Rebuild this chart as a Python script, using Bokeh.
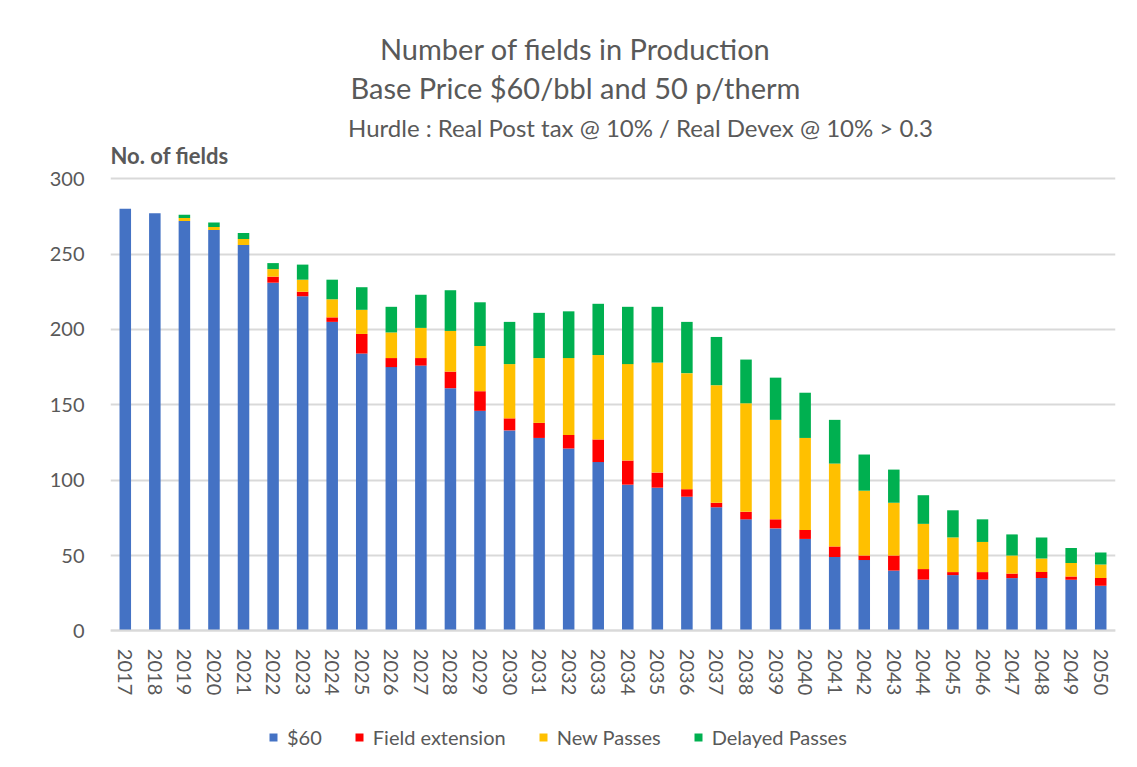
import math
from bokeh.plotting import figure
from bokeh.models import ColumnDataSource, Label, Legend, FactorRange, Range1d
from bokeh.embed import file_html
from bokeh.resources import INLINE

years = [str(y) for y in range(2017, 2051)]
base_60 = [280, 277, 272, 266, 256, 231, 222, 205, 184, 175, 176, 161, 146, 133, 128, 121, 112,
           97, 95, 89, 82, 74, 68, 61, 49, 47, 40, 34, 37, 34, 35, 35, 34, 30]
field_extension = [0, 0, 0, 0, 0, 4, 3, 3, 13, 6, 5, 11, 13, 8, 10, 9, 15,
                   16, 10, 5, 3, 5, 6, 6, 7, 3, 10, 7, 2, 5, 3, 4, 2, 5]
new_passes = [0, 0, 2, 2, 4, 5, 8, 12, 16, 17, 20, 27, 30, 36, 43, 51, 56,
              64, 73, 77, 78, 72, 66, 61, 55, 43, 35, 30, 23, 20, 12, 9, 9, 9]
delayed_passes = [0, 0, 2, 3, 4, 4, 10, 13, 15, 17, 22, 27, 29, 28, 30, 31, 34,
                  38, 37, 34, 32, 29, 28, 30, 29, 24, 22, 19, 18, 15, 14, 14, 10, 8]
series_names = ["$60", "Field extension", "New Passes", "Delayed Passes"]
colors = ["#4472C4", "#FF0000", "#FFC000", "#00B050"]
title_lines = ["Number of fields in Production",
               "Base Price $60/bbl and 50 p/therm",
               "Hurdle : Real Post tax @ 10% / Real Devex @ 10% > 0.3"]
y_title = "No. of fields"
y_ticks = [0, 50, 100, 150, 200, 250, 300]

FONT = "Lato"
GREY = "#595959"

source = ColumnDataSource(data={
    "year": years,
    "s0": base_60, "s1": field_extension, "s2": new_passes, "s3": delayed_passes,
})

p = figure(x_range=FactorRange(*years, range_padding=0), y_range=Range1d(-86, 395),
           frame_width=1005, frame_height=725, output_backend="svg", toolbar_location=None,
           min_border_left=110, min_border_right=14, min_border_top=35, min_border_bottom=0)
p.outline_line_color = None
p.background_fill_color = "white"
p.border_fill_color = "white"

renderers = p.vbar_stack(["s0", "s1", "s2", "s3"], x="year", width=0.39, source=source,
                         color=colors, line_color=None)

# axes
p.yaxis.ticker = y_ticks
p.yaxis.axis_line_color = None
p.yaxis.major_tick_line_color = None
p.yaxis.minor_tick_line_color = None
p.yaxis.major_label_text_font = FONT
p.yaxis.major_label_text_font_size = "20px"
p.yaxis.major_label_text_color = GREY
p.yaxis.major_label_standoff = 20

p.xaxis.fixed_location = 0
p.xaxis.axis_line_color = "#D9D9D9"
p.xaxis.axis_line_width = 2
p.xaxis.major_tick_line_color = None
p.xaxis.minor_tick_line_color = None
p.xaxis.major_label_orientation = -math.pi / 2
p.xaxis.major_label_text_font = FONT
p.xaxis.major_label_text_font_size = "20px"
p.xaxis.major_label_text_color = GREY
p.xaxis.major_label_standoff = 12

p.xgrid.grid_line_color = None
p.ygrid.grid_line_color = "#D9D9D9"
p.ygrid.grid_line_width = 2

# titles (one label per line)
title_x = [15.73, 15.73, 17.93]
title_y = [386.3, 360.4, 333.8]
title_size = ["29px", "29px", "24px"]
for txt, tx, ty, ts in zip(title_lines, title_x, title_y, title_size):
    p.add_layout(Label(x=tx, y=ty, text=txt, text_align="center", text_baseline="middle",
                       text_font=FONT, text_font_size=ts, text_color=GREY))

p.add_layout(Label(x=0, y=315.3, text=y_title, text_align="left", text_baseline="middle",
                   text_font=FONT, text_font_size="22px", text_font_style="bold",
                   text_color=GREY))

legend = Legend(items=[(n, [r]) for n, r in zip(series_names, renderers)],
                orientation="horizontal", location=(158, 11),
                label_text_font=FONT, label_text_font_size="20px", label_text_color=GREY,
                glyph_width=10, glyph_height=10, label_standoff=9, spacing=32,
                border_line_color=None, background_fill_alpha=0, margin=0, padding=4)
p.add_layout(legend, "center")

open("out.html", "w").write(file_html(p, INLINE))
